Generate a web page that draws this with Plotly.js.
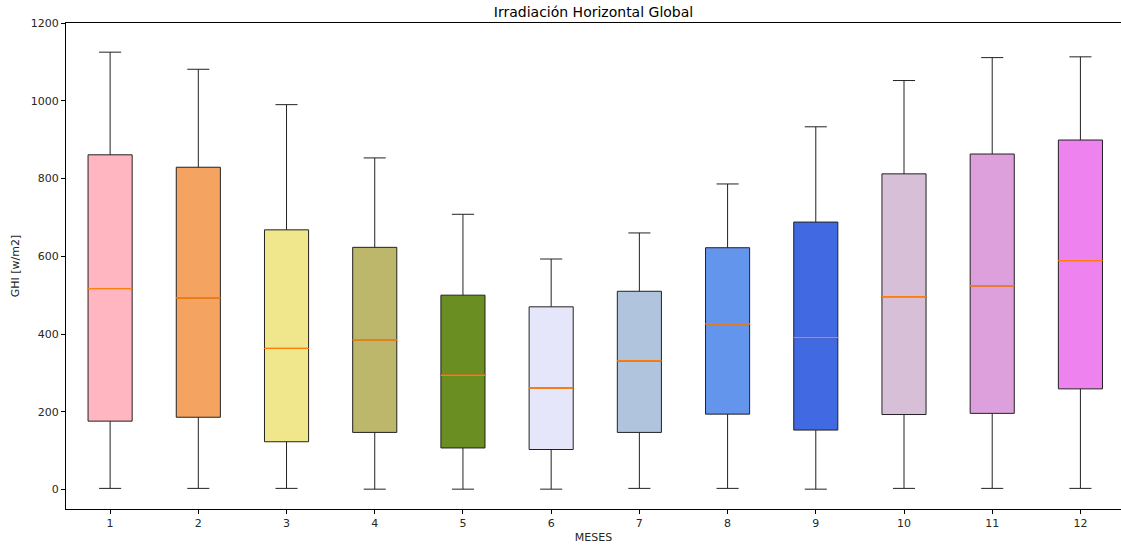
<!DOCTYPE html>
<html>
<head>
<meta charset="utf-8">
<script src="https://cdn.plot.ly/plotly-3.0.1.min.js"></script>
<style>html,body{margin:0;padding:0;background:#fff}#chart{width:1121px;height:547px}</style>
</head>
<body>
<div id="chart"></div>
<script>
const months = [1,2,3,4,5,6,7,8,9,10,11,12];
const lowerWhisker = [3,3,3,1,1,1,3,3,1,3,3,3];
const q1Values = [176,186,123,147,107,103,147,194,153,193,196,259];
const medianValues = [517,493,363,385,294,261,331,426,391,496,524,589];
const q3Values = [861,829,668,623,500,470,510,622,688,812,863,899];
const upperWhisker = [1125,1081,990,853,708,593,660,786,933,1052,1111,1113];
const boxColors = ['#FFB6C1','#F4A460','#F0E68C','#BDB76B','#6B8E23','#E6E6FA','#B0C4DE','#6495ED','#4169E1','#D8BFD8','#DDA0DD','#EE82EE'];

const traces = [];
months.forEach((m, i) => {
  traces.push({
    type: 'box',
    x: [m],
    q1: [q1Values[i]],
    median: [medianValues[i]],
    q3: [q3Values[i]],
    lowerfence: [lowerWhisker[i]],
    upperfence: [upperWhisker[i]],
    width: 0.5,
    whiskerwidth: 0.5,
    fillcolor: boxColors[i],
    line: {color: '#222222', width: 1},
    boxpoints: false,
    hoverinfo: 'skip',
    showlegend: false
  });
});
// orange median lines (degenerate boxes at the median value)
months.forEach((m, i) => {
  traces.push({
    type: 'box',
    x: [m],
    q1: [medianValues[i]],
    median: [medianValues[i]],
    q3: [medianValues[i]],
    lowerfence: [medianValues[i]],
    upperfence: [medianValues[i]],
    width: 0.5,
    whiskerwidth: 0,
    fillcolor: 'rgba(0,0,0,0)',
    line: {color: '#ff7f0e', width: 1},
    boxpoints: false,
    hoverinfo: 'skip',
    showlegend: false
  });
});

const layout = {
  width: 1121, height: 547,
  margin: {l: 66, r: 0, t: 23, b: 38},
  paper_bgcolor: '#ffffff', plot_bgcolor: '#ffffff',
  font: {family: 'DejaVu Sans', size: 11, color: '#262626'},
  boxmode: 'overlay',
  title: {text: 'Irradiación Horizontal Global', font: {family: 'DejaVu Sans', size: 14, color: '#000'}, x: 0.5, xanchor: 'center', y: 0.978, yanchor: 'middle', xref: 'paper'},
  xaxis: {
    range: [0.5, 12.46], tickvals: months, ticktext: months.map(String),
    showgrid: false, zeroline: false,
    showline: true, linecolor: '#000', linewidth: 1, mirror: true,
    ticks: 'outside', ticklen: 4, tickcolor: '#000',
    tickfont: {size: 11, color: '#262626'},
    title: {text: 'MESES', font: {size: 11, color: '#262626'}, standoff: 4}
  },
  yaxis: {
    range: [-50, 1200], tickvals: [0,200,400,600,800,1000,1200],
    showgrid: false, zeroline: false,
    showline: true, linecolor: '#000', linewidth: 1,
    ticks: 'outside', ticklen: 4, tickcolor: '#000',
    tickfont: {size: 11, color: '#262626'},
    title: {text: 'GHI [w/m2]', font: {size: 11, color: '#262626'}, standoff: 8}
  }
};

Plotly.newPlot('chart', traces, layout, {displayModeBar: false, staticPlot: true});
</script>
</body>
</html>
